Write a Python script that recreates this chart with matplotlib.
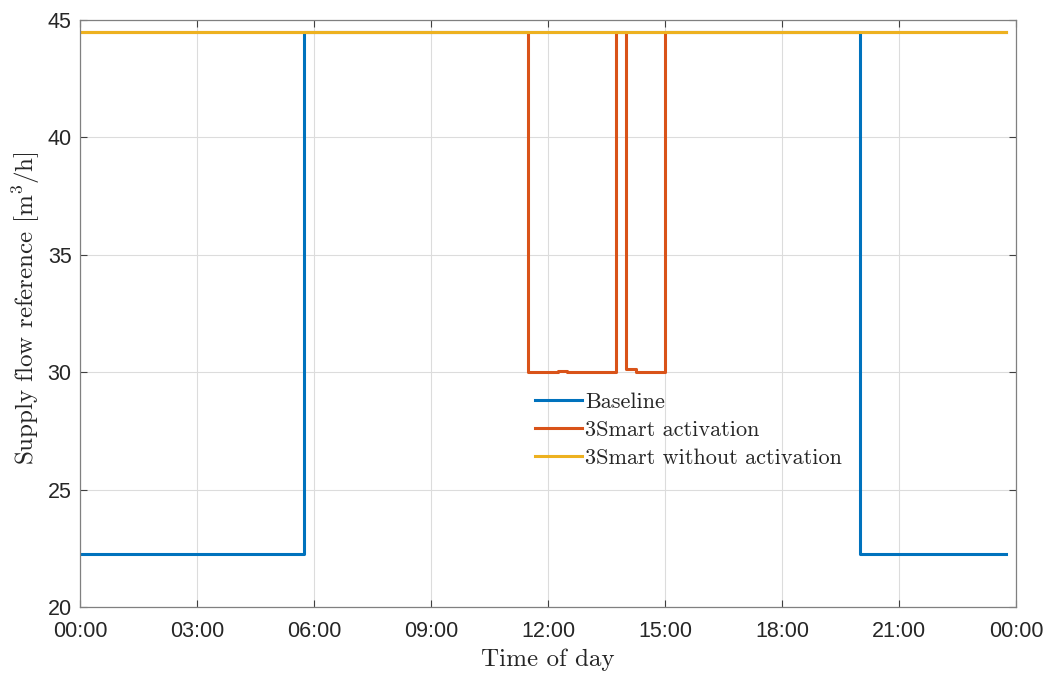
import matplotlib
matplotlib.use("Agg")
import matplotlib.pyplot as plt
from matplotlib.ticker import FuncFormatter, MultipleLocator

# ── data (hours of day, step values) ──────────────────────────────────────────
baseline_t = [0.0, 5.75, 20.0, 23.75]
baseline_v = [22.25, 44.5, 22.25, 22.25]

activation_t = [0.0, 11.5, 12.25, 12.5, 13.75, 14.0, 14.25, 15.0, 23.75]
activation_v = [44.5, 30.0, 30.07, 30.0, 44.5, 30.12, 30.0, 44.5, 44.5]

no_activation_t = [0.0, 23.75]
no_activation_v = [44.5, 44.5]

labels = ["Baseline", "3Smart activation", "3Smart without activation"]
colors = ["#0072BD", "#D95319", "#EDB120"]

plt.rcParams["mathtext.fontset"] = "cm"

fig = plt.figure(figsize=(10.5, 6.73), dpi=100)
ax = fig.add_axes([0.0762, 0.0981, 0.8914, 0.8722])

for t, v, lab, c in zip([baseline_t, activation_t, no_activation_t],
                        [baseline_v, activation_v, no_activation_v],
                        labels, colors):
    ax.plot(t, v, drawstyle="steps-post", color=c, lw=2.2, label=lab)

ax.set_xlim(0, 24)
ax.set_ylim(20, 45)
ax.xaxis.set_major_locator(MultipleLocator(3))
ax.yaxis.set_major_locator(MultipleLocator(5))
ax.xaxis.set_major_formatter(FuncFormatter(lambda x, p: f"{int(x) % 24:02d}:00"))

ax.grid(True, color="#dcdcdc", lw=0.8)
ax.set_axisbelow(True)
for s in ax.spines.values():
    s.set_color("#808080")
    s.set_linewidth(0.9)
ax.tick_params(direction="in", top=True, right=True, length=5,
               color="#404040", labelsize=15.5, labelcolor="#262626")
ax.tick_params(axis="x", pad=10)
ax.tick_params(axis="y", pad=6)
for lbl in ax.get_xticklabels() + ax.get_yticklabels():
    lbl.set_family("Liberation Sans")

ax.set_xlabel("Time of day", family="cmr10", fontsize=18, color="#262626")
ax.set_ylabel(r"Supply flow reference [m$^3$/h]", family="cmr10", fontsize=18,
              color="#262626")
ax.xaxis.set_label_coords(0.5, -0.07)
ax.yaxis.set_label_coords(-0.041, 0.51)

leg = ax.legend(loc="upper left", bbox_to_anchor=(0.486, 0.366), frameon=False,
                prop={"family": "cmr10", "size": 16}, handlelength=2.1,
                handletextpad=0.15, labelspacing=0.38, borderaxespad=0,
                borderpad=0)
for txt in leg.get_texts():
    txt.set_color("#262626")

fig.savefig("out.png", dpi=100, facecolor="white")
